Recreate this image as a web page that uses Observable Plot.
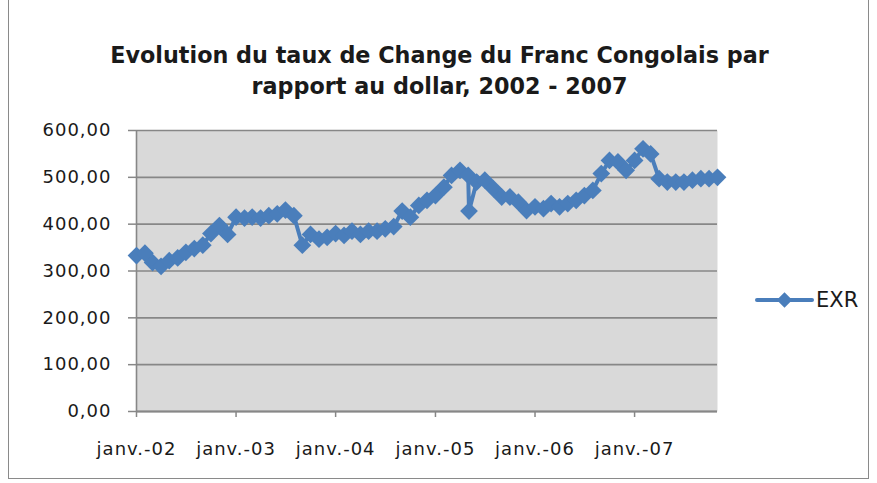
<!DOCTYPE html>
<html><head><meta charset="utf-8">
<script src="https://cdn.jsdelivr.net/npm/d3@7"></script>
<script src="https://cdn.jsdelivr.net/npm/@observablehq/plot@0.6"></script>
<style>
body{margin:0;background:#fff;}
#wrap{position:relative;width:877px;height:483px;overflow:hidden;font-family:"DejaVu Sans",sans-serif;color:#1a1a1a;}
#border{position:absolute;left:8px;top:-1px;width:861px;height:480px;border:1px solid #8a8a8a;box-sizing:border-box;}
#title{position:absolute;left:1px;top:40px;width:877px;text-align:center;font-weight:bold;font-size:22.3px;line-height:31px;}
#chart{position:absolute;left:0;top:0;}
#legend{position:absolute;left:755px;top:287px;display:flex;align-items:center;font-size:21px;}
</style></head>
<body>
<div id="wrap">
  <div id="chart"></div>
  <div id="border"></div>
  <div id="title">Evolution du taux de Change du Franc Congolais par<br>rapport au dollar, 2002 - 2007</div>
  <div id="legend"></div>
</div>
<script>
// Observation dates (monthly; one extra observation in May 2005)
const dates = [
  "2002-01-01","2002-02-01","2002-03-01","2002-04-01","2002-05-01","2002-06-01","2002-07-01","2002-08-01","2002-09-01","2002-10-01","2002-11-01","2002-12-01",
  "2003-01-01","2003-02-01","2003-03-01","2003-04-01","2003-05-01","2003-06-01","2003-07-01","2003-08-01","2003-09-01","2003-10-01","2003-11-01","2003-12-01",
  "2004-01-01","2004-02-01","2004-03-01","2004-04-01","2004-05-01","2004-06-01","2004-07-01","2004-08-01","2004-09-01","2004-10-01","2004-11-01","2004-12-01",
  "2005-01-01","2005-02-01","2005-03-01","2005-04-01","2005-05-01","2005-05-04","2005-06-01","2005-07-01","2005-08-01","2005-09-01","2005-10-01","2005-11-01","2005-12-01",
  "2006-01-01","2006-02-01","2006-03-01","2006-04-01","2006-05-01","2006-06-01","2006-07-01","2006-08-01","2006-09-01","2006-10-01","2006-11-01","2006-12-01",
  "2007-01-01","2007-02-01","2007-03-01","2007-04-01","2007-05-01","2007-06-01","2007-07-01","2007-08-01","2007-09-01","2007-10-01","2007-11-01"
];
// EXR values (CDF per USD)
const exr = [
  333,338,318,310,322,328,340,348,355,380,397,378,
  415,413,415,413,418,422,430,418,355,378,368,372,
  380,376,385,378,385,385,390,395,428,415,440,451,
  461,479,504,515,504,428,490,494,476,458,458,447,429,
  437,433,444,437,444,451,461,472,508,536,533,515,
  536,561,550,497,490,490,490,494,497,497,500
];
const seriesName = "EXR";
const yTicks = [0,100,200,300,400,500,600];
const xTickDates = ["2002-01-01","2003-01-01","2004-01-01","2005-01-01","2006-01-01","2007-01-01"];
const xTickLabels = ["janv.-02","janv.-03","janv.-04","janv.-05","janv.-06","janv.-07"];

const data = dates.map((d,i)=>({date:new Date(d), v:exr[i]}));
const xt = xTickDates.map(d=>new Date(d));
const blue = "#4a7ebb", grid = "#878787";
const R = 8;

const chart = Plot.plot({
  width: 877, height: 483,
  marginLeft: 136, marginRight: 160, marginTop: 130, marginBottom: 72,
  style: {fontFamily: "DejaVu Sans, sans-serif", fontSize: "18px", color: "#1a1a1a", background: "transparent", letterSpacing: "1px"},
  x: {type: "utc", domain: [new Date("2002-01-01"), new Date("2007-11-01")]},
  y: {domain: [0, 600]},
  marks: [
    Plot.frame({fill: "#d9d9d9", stroke: null}),
    Plot.gridY(yTicks, {stroke: grid, strokeOpacity: 1, strokeWidth: 1.6}),
    Plot.ruleX([new Date("2002-01-01")], {stroke: grid, strokeWidth: 1.6}),
    Plot.ruleY([0], {stroke: grid, strokeWidth: 2}),
    Plot.axisY(yTicks, {tickSize: 8, tickPadding: 17, stroke: grid, strokeWidth: 1.5, fill: "#1a1a1a",
      tickFormat: d => d.toFixed(2).replace(".", ","), label: null}),
    Plot.axisX(xt, {tickSize: 6, tickPadding: 25, stroke: grid, strokeWidth: 1.5, fill: "#1a1a1a",
      tickFormat: (d,i) => xTickLabels[xt.findIndex(t => +t === +d)], label: null}),
    Plot.line(data, {x: "date", y: "v", stroke: blue, strokeWidth: 4, strokeLinejoin: "round"}),
    Plot.dot(data, {x: "date", y: "v", symbol: "diamond2", r: R, fill: blue, stroke: "none"})
  ]
});
document.getElementById("chart").appendChild(chart);

// legend
const lg = document.getElementById("legend");
const ls = d3.create("svg").attr("width", 60).attr("height", 26);
ls.append("line").attr("x1", 2).attr("x2", 57).attr("y1", 13).attr("y2", 13)
  .attr("stroke", blue).attr("stroke-width", 4).attr("stroke-linecap", "round");
ls.append("path").attr("d", d3.symbol(d3.symbolDiamond2, Math.PI * 7 * 7)())
  .attr("transform", "translate(29.5,13)").attr("fill", blue);
lg.appendChild(ls.node());
const t = document.createElement("span");
t.textContent = seriesName;
t.style.marginLeft = "1px";
lg.appendChild(t);
</script>
</body></html>
